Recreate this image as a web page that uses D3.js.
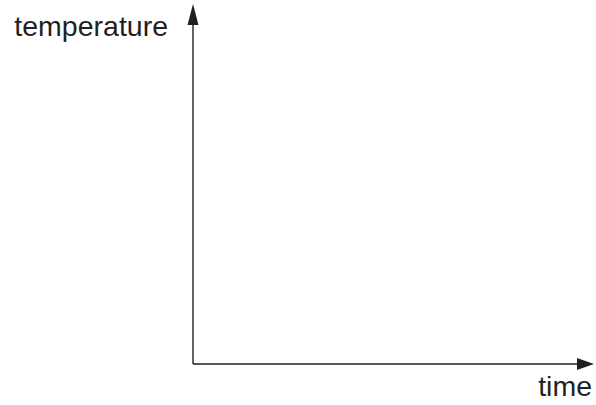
<!DOCTYPE html>
<html>
<head>
<meta charset="utf-8">
<script src="https://cdn.jsdelivr.net/npm/d3@7"></script>
<style>
  body { margin: 0; background: #fff; }
  text { font-family: "Liberation Sans", Arial, sans-serif; fill: #231f20; }
</style>
</head>
<body>
<svg width="596" height="405"></svg>
<script>
// axis labels and (empty) domains of the sketch graph
var axisLabels = ["time", "temperature"];
var xDomain = [0, 1];
var yDomain = [0, 1];

var svg = d3.select("svg"),
    width = +svg.attr("width"),
    height = +svg.attr("height");

var x = d3.scaleLinear().domain(xDomain).range([193, 594]);
var y = d3.scaleLinear().domain(yDomain).range([364, 4]);

var ink = "#231f20";

// axis lines
svg.append("line")
    .attr("x1", x(0)).attr("y1", y(0))
    .attr("x2", x(1) - 14).attr("y2", y(0))
    .attr("stroke", ink).attr("stroke-width", 1.4);

svg.append("line")
    .attr("x1", x(0)).attr("y1", y(0))
    .attr("x2", x(0)).attr("y2", y(1) + 18)
    .attr("stroke", ink).attr("stroke-width", 1.4);

// arrow heads
svg.append("path")
    .attr("d", "M" + x(1) + "," + y(0) + "L" + (x(1) - 17) + "," + (y(0) - 6) + "L" + (x(1) - 17) + "," + (y(0) + 6) + "Z")
    .attr("fill", ink);

svg.append("path")
    .attr("d", "M" + x(0) + "," + y(1) + "L" + (x(0) - 5.5) + "," + (y(1) + 21) + "L" + (x(0) + 5.5) + "," + (y(1) + 21) + "Z")
    .attr("fill", ink);

// labels
svg.append("text")
    .attr("x", x(1) - 2)
    .attr("y", 396)
    .attr("text-anchor", "end")
    .attr("font-size", "28.5px")
    .text(axisLabels[0]);

svg.append("text")
    .attr("x", 168)
    .attr("y", 36)
    .attr("text-anchor", "end")
    .attr("font-size", "28.5px")
    .text(axisLabels[1]);
</script>
</body>
</html>
